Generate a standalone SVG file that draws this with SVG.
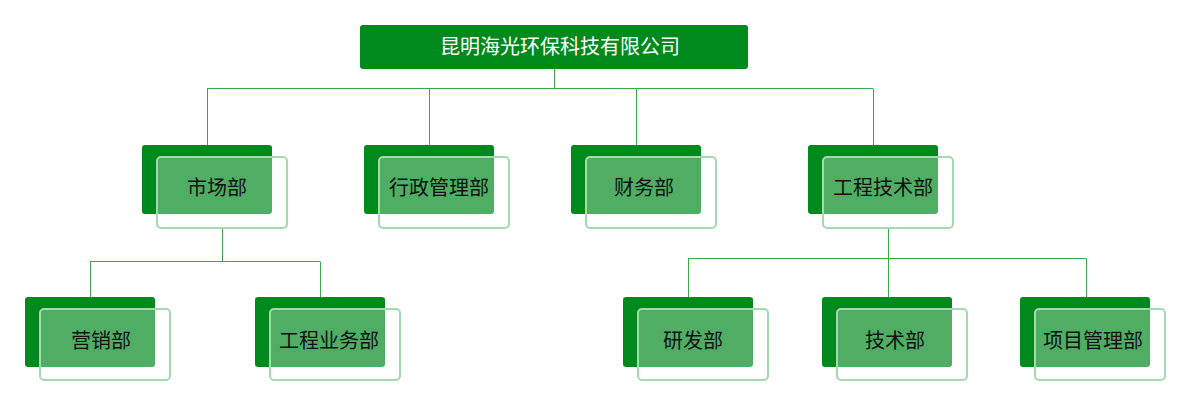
<svg xmlns="http://www.w3.org/2000/svg" width="1190" height="405" viewBox="0 0 1190 405">
<style>
.bg{fill:#ffffff}
.dk{fill:#008a1e}
.lt{fill:#ffffff;fill-opacity:0.31;stroke:#a6d9b0;stroke-width:2}
.ln{fill:none;stroke:#3da94d;stroke-width:1}
.t{font-family:"Noto Sans CJK SC","Noto Sans",sans-serif;font-size:20px;fill:#111111;text-anchor:middle}
.tt{font-family:"Noto Sans CJK SC","Noto Sans",sans-serif;font-size:20px;fill:#ffffff;text-anchor:middle}
</style>
<rect class="bg" x="0" y="0" width="1190" height="405"/>
<g id="connectors">
<path class="ln" d="M554.5 69V88.5M207 88.5H873M207.5 88.5V145M429.5 88.5V145M636.5 88.5V145M873.5 88.5V145"/>
<path class="ln" d="M222.5 229V261.5M90 261.5H320M90.5 261.5V297M320.5 261.5V297"/>
<path class="ln" d="M888.5 229V258.5M688 258.5H1086M688.5 258.5V297M888.5 258.5V297M1086.5 258.5V297"/>
</g>
<g id="root">
<rect class="dk" x="360" y="25" width="388" height="44" rx="3"/>
<text class="tt" x="560" y="54">昆明海光环保科技有限公司</text>
</g>
<g id="shichang">
<rect class="dk" x="142" y="145" width="130" height="69" rx="3"/>
<rect class="lt" x="157" y="157" width="130" height="71" rx="4"/>
<text class="t" x="217" y="195">市场部</text>
</g>
<g id="xingzheng">
<rect class="dk" x="364" y="145" width="130" height="69" rx="3"/>
<rect class="lt" x="379" y="157" width="130" height="71" rx="4"/>
<text class="t" x="439" y="195">行政管理部</text>
</g>
<g id="caiwu">
<rect class="dk" x="571" y="145" width="130" height="69" rx="3"/>
<rect class="lt" x="586" y="157" width="130" height="71" rx="4"/>
<text class="t" x="644" y="195">财务部</text>
</g>
<g id="gongcheng">
<rect class="dk" x="808" y="145" width="130" height="69" rx="3"/>
<rect class="lt" x="823" y="157" width="130" height="71" rx="4"/>
<text class="t" x="883" y="195">工程技术部</text>
</g>
<g id="yingxiao">
<rect class="dk" x="25" y="297" width="130" height="70" rx="3"/>
<rect class="lt" x="40" y="309" width="130" height="71" rx="4"/>
<text class="t" x="101" y="348">营销部</text>
</g>
<g id="gongchengyewu">
<rect class="dk" x="255" y="297" width="130" height="70" rx="3"/>
<rect class="lt" x="270" y="309" width="130" height="71" rx="4"/>
<text class="t" x="329" y="348">工程业务部</text>
</g>
<g id="yanfa">
<rect class="dk" x="623" y="297" width="130" height="70" rx="3"/>
<rect class="lt" x="638" y="309" width="130" height="71" rx="4"/>
<text class="t" x="693" y="348">研发部</text>
</g>
<g id="jishu">
<rect class="dk" x="822" y="297" width="130" height="70" rx="3"/>
<rect class="lt" x="837" y="309" width="130" height="71" rx="4"/>
<text class="t" x="895" y="348">技术部</text>
</g>
<g id="xiangmu">
<rect class="dk" x="1020" y="297" width="130" height="70" rx="3"/>
<rect class="lt" x="1035" y="309" width="130" height="71" rx="4"/>
<text class="t" x="1093" y="348">项目管理部</text>
</g>
</svg>
